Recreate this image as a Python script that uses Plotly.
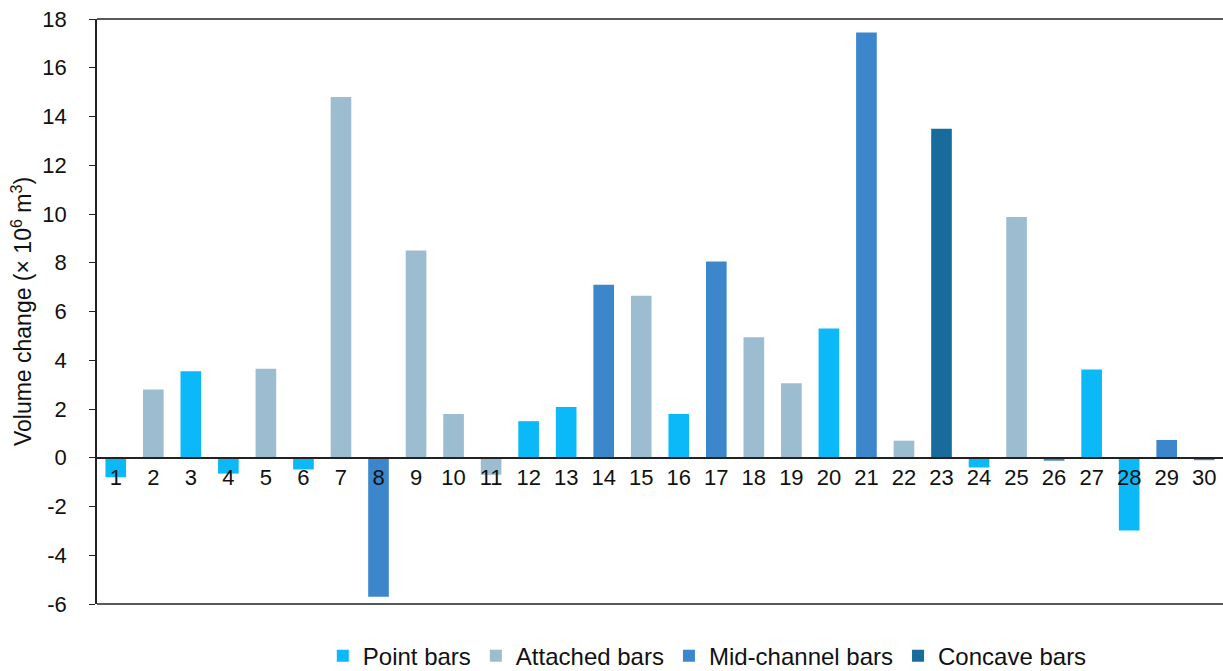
import plotly.graph_objects as go

bar_ids = [str(i) for i in range(1, 31)]
volume_change = [-0.8, 2.8, 3.55, -0.65, 3.65, -0.48, 14.8, -5.7, 8.5, 1.8,
                 -0.7, 1.5, 2.08, 7.1, 6.65, 1.8, 8.05, 4.94, 3.06, 5.3,
                 17.45, 0.7, 13.5, -0.4, 9.88, -0.12, 3.62, -2.98, 0.73, -0.1]
bar_type = ["Point bars", "Attached bars", "Point bars", "Point bars", "Attached bars",
            "Point bars", "Attached bars", "Mid-channel bars", "Attached bars", "Attached bars",
            "Attached bars", "Point bars", "Point bars", "Mid-channel bars", "Attached bars",
            "Point bars", "Mid-channel bars", "Attached bars", "Attached bars", "Point bars",
            "Mid-channel bars", "Attached bars", "Concave bars", "Point bars", "Attached bars",
            "Mid-channel bars", "Point bars", "Point bars", "Mid-channel bars", "Mid-channel bars"]
type_order = ["Point bars", "Attached bars", "Mid-channel bars", "Concave bars"]
type_colors = ["#0BB9F9", "#9CBDD0", "#3C86CC", "#176C9B"]
y_tick_vals = [-6, -4, -2, 0, 2, 4, 6, 8, 10, 12, 14, 16, 18]
y_tick_text = ["-6", "-4", "-2", "0", "2", "4", "6", "8", "10", "12", "14", "16", "18"]

FONT = "Liberation Sans, Arial, sans-serif"

fig = go.Figure()
for name, color in zip(type_order, type_colors):
    xs = [b for b, t in zip(bar_ids, bar_type) if t == name]
    ys = [v for v, t in zip(volume_change, bar_type) if t == name]
    fig.add_trace(go.Bar(x=xs, y=ys, name=name, marker=dict(color=color, line=dict(width=0))))

ymin, ymax = -6, 18
zero_pos = (0 - ymin) / (ymax - ymin)

fig.update_layout(
    width=1223, height=671,
    margin=dict(l=97, r=0, t=19, b=67, autoexpand=False),
    paper_bgcolor="white", plot_bgcolor="white",
    barmode="overlay", bargap=0.45,
    font=dict(family=FONT, size=22, color="#111111"),
    showlegend=True,
    legend=dict(orientation="h", x=0.542, xanchor="center",
                yref="container", y=0.022, yanchor="middle",
                font=dict(size=24, family=FONT, color="#111111"),
                itemwidth=30, tracegroupgap=0),
    xaxis=dict(type="category", categoryorder="array", categoryarray=bar_ids,
               anchor="free", position=zero_pos,
               showline=True, linecolor="#222222", linewidth=1.5,
               ticks="", showgrid=False, zeroline=False,
               tickfont=dict(size=22, family=FONT, color="#111111"),
               range=[-0.5, 29.5]),
    yaxis=dict(range=[ymin, ymax], tickvals=y_tick_vals, ticktext=y_tick_text,
               showline=True, linecolor="#222222", linewidth=1.5,
               ticks="outside", ticklen=6, tickcolor="#222222", tickwidth=1.2,
               ticklabelstandoff=18, automargin=False,
               showgrid=False, zeroline=False,
               tickfont=dict(size=22, family=FONT, color="#111111"),
               title=dict(text="Volume change (× 10<sup>6</sup> m<sup>3</sup>)",
                          font=dict(size=23, family=FONT, color="#111111"), standoff=4)),
    shapes=[
        dict(type="line", xref="paper", yref="paper", x0=0, x1=1, y0=1, y1=1,
             line=dict(color="#222222", width=1.5)),
        dict(type="line", xref="paper", yref="paper", x0=0, x1=1, y0=0, y1=0,
             line=dict(color="#222222", width=1.5)),
    ],
)

fig.write_html("out.html", config={"displayModeBar": False},
               post_script="document.body.style.margin='0';")
